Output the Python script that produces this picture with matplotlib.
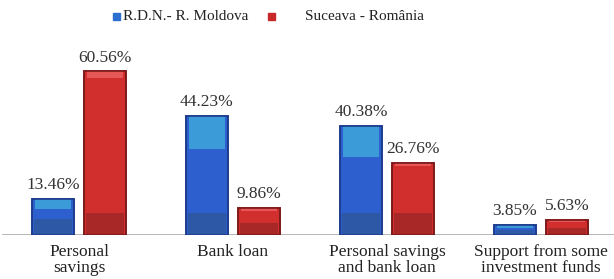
import numpy as np
import matplotlib
matplotlib.use('Agg')
import matplotlib.pyplot as plt

categories = ['Personal\nsavings', 'Bank loan', 'Personal savings\nand bank loan',
              'Support from some\ninvestment funds']
moldova = [13.46, 44.23, 40.38, 3.85]
suceava = [60.56, 9.86, 26.76, 5.63]
series_names = ['R.D.N.- R. Moldova', 'Suceava - România']

plt.rcParams['font.family'] = ['Liberation Serif', 'DejaVu Serif']

W, H = 614, 279
fig = plt.figure(figsize=(W / 100, H / 100), dpi=100)
ax = fig.add_axes([2 / W, 44 / H, 1.0, 200 / H])

px_per_unit = 2.7
ax.set_xlim(-0.5, -0.5 + W / 154)
ax.set_ylim(0, 200 / px_per_unit)

x = np.arange(len(categories))
bw = 42 / 154
off = 26 / 154

styles = [
    # main, edge, top highlight, bottom shade, highlight fraction
    ('#2d5fcf', '#1d3c8c', '#3b9bd8', '#2c58a6', 0.28),
    ('#d12e2e', '#7e1a1a', '#e65858', '#a82828', 0.04),
]

for vals, xs, (main, edge, hi, lo, frac) in zip([moldova, suceava], [x - off, x + off], styles):
    vals = np.array(vals)
    ax.bar(xs, vals, width=bw, color=main, edgecolor=edge, linewidth=1.2, zorder=2)
    # darker lower band
    low_h = np.minimum(8, vals * 0.45)
    ax.bar(xs, low_h, width=bw * 0.92, color=lo, linewidth=0, zorder=3)
    # lighter upper highlight
    hi_h = np.maximum(vals * frac, 1.0)
    ax.bar(xs, hi_h, bottom=vals - hi_h, width=bw * 0.88, color=hi,
           linewidth=0, zorder=3)
    ax.bar(xs, vals, width=bw, color='none', edgecolor=edge, linewidth=1.2, zorder=4)
    for xi, v in zip(xs, vals):
        ax.text(xi, v + 2.2, f'{v:.2f}%', ha='center', va='bottom',
                fontsize=12.5, color='#333333', zorder=5)

ax.axhline(0, color='#b0b0b0', lw=2, zorder=1)

for xi, c in zip(x, categories):
    ax.text(xi, -3.2, c, ha='center', va='top', fontsize=12.5, color='#222222',
            linespacing=1.05)

for s in ax.spines.values():
    s.set_visible(False)
ax.set_xticks([])
ax.set_yticks([])

# legend
fig.patches.append(plt.Rectangle((113 / W, 1 - 20 / H), 7 / W, 7 / H,
                                 transform=fig.transFigure, color='#2d6fd0'))
fig.text(123 / W, 1 - 16 / H, series_names[0], fontsize=11, va='center',
         ha='left', color='#222222')
fig.patches.append(plt.Rectangle((268 / W, 1 - 20 / H), 7 / W, 7 / H,
                                 transform=fig.transFigure, color='#c82828'))
fig.text(305 / W, 1 - 16 / H, series_names[1], fontsize=11, va='center',
         ha='left', color='#222222')

fig.savefig('out.png', dpi=100)
